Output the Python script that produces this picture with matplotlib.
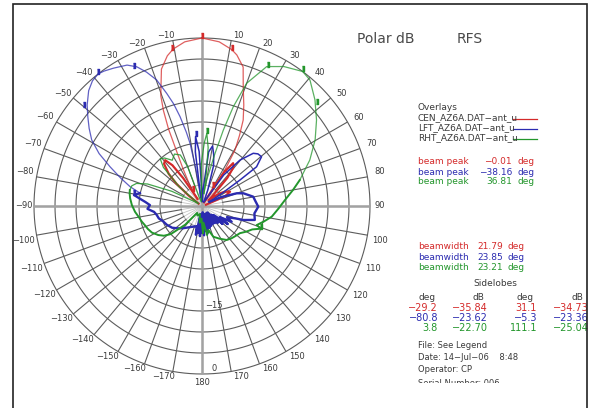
import numpy as np
import matplotlib
matplotlib.use("Agg")
import matplotlib.pyplot as plt
from matplotlib.lines import Line2D
from matplotlib.patches import Rectangle

# Antenna azimuth patterns (angle in deg, level in dB relative to peak)
red_main_ang = [-36, -30, -27, -25, -23.5, -22, -20.5, -19, -16.5, -13, -10.4, -6, 0,
                6, 10.8, 13, 16.5, 19.1, 22.5, 25.6, 28, 30.5, 33, 35]
red_main_db = [-38, -34, -30, -26, -20, -15.5, -12, -10, -6, -3.3, -2, -0.7, 0,
               -0.7, -2.1, -3.1, -5.5, -10, -14, -17.3, -21, -24.5, -30.7, -37]
red_left_ang = [-55, -52, -49, -46, -42, -38.8, -36, -34, -32]
red_left_db = [-39, -36, -32, -29, -26.5, -26, -28, -32, -38]
red_right_ang = [30, 33, 36, 39, 42, 46, 50, 54, 58, 63, 67, 72]
red_right_db = [-39, -30.5, -27.4, -28, -31, -36.5, -38, -35, -33.5, -32.5, -34, -39]

blue_main_ang = [-8, -9.1, -10.8, -12, -13.8, -15.5, -17.4, -19.8, -22.5, -25.1, -28, -32.7,
                 -36, -38.2, -41.2, -44.5, -48.7, -52, -55.5, -59.1, -63, -66.9, -71, -75, -78.2]
blue_main_db = [-38, -32, -24.8, -22, -18.1, -14.8, -11.9, -8.1, -5.5, -3.4, -2, -1,
                -0.3, 0, -0.4, -1.5, -3.6, -5.5, -7.4, -9.4, -12.5, -16.2, -19.5, -22.3, -24.9]
blue_back_ang = [-78.2, -80.8, -84, -86, -89, -93, -97, -101, -106, -111, -118, -126, -133,
                 -140, -148, -156, -165,
                 -168, -170, -172, -174, -176, -178, 180, 178, 176, 174, 172, 170,
                 167, 164, 161, 158, 155, 152, 149, 146, 143, 140, 137, 134, 131, 128, 125, 122,
                 118, 114, 110,
                 108.7, 104.8, 98, 90.7, 84, 79.7, 72.9, 69.9, 65, 61]
blue_back_db = [-24.9, -23.6, -25.5, -26.5, -27.6, -27, -28.5, -29, -29.3, -30, -30.5, -31.2, -32.2,
                -33.1, -34, -34.6, -35,
                -33, -38, -33.5, -37.5, -32.8, -38, -33.6, -37, -33, -38.5, -34, -37,
                -33.5, -38, -34.5, -37, -34.8, -38, -35, -37.5, -34.9, -38, -34.5, -37, -33.5, -36.5, -32.5, -35,
                -32, -33.5, -31.2,
                -29.6, -27, -27.4, -26.6, -27.3, -27.6, -29.7, -31.2, -35, -38]
blue_side_ang = [61, 57.6, 55.6, 54.3, 50.4, 47, 44.2, 39.6, 35, 31, 24, 20, 16, 12.9, 10, 7, 4,
                 1, -1, -3, -5.3, -7, -8]
blue_side_db = [-38, -34.4, -29, -24, -21.6, -21.8, -22.5, -25.8, -31, -38, -39, -36, -30, -27.5,
                -25.5, -27, -36, -39, -36, -27, -23.4, -27, -38]

green_main_ang = [8.5, 10.2, 13.9, 15.7, 17.5, 20, 24.9, 30.4, 36.8, 40.6, 46.8, 53.1, 59.7, 66.9, 75.1]
green_main_db = [-37, -33.7, -27.1, -21.2, -15.2, -8.9, -3.4, -1.5, 0, -0.5, -3.1, -5.9, -8.8, -12.1, -15.9]
green_back_ang = [75.1, 80, 85.9, 92, 98.7, 104, 109.2, 111.1, 115, 120,
                  125.7, 132, 138, 144, 152, 159.8, 165, 170, 175, 178,
                  -178, -172, -165, -155, -145, -138, -132, -128, -123.6, -118,
                  -113, -108, -104.6, -99, -95, -89.2, -84, -80, -77.5]
green_back_db = [-15.9, -18, -20.2, -21.8, -23.2, -24.8, -26.2, -25.0, -26.8, -27.8,
                 -28.9, -29.3, -29.6, -30, -31.2, -32.2, -34.1, -33, -36, -33.5,
                 -37, -36, -38, -37.5, -38, -34, -30, -28.5, -27.5, -26.5,
                 -26, -25.6, -25.2, -24.6, -24, -23.3, -22.8, -22.5, -22.4]
green_side_ang = [-77.5, -74, -71, -68, -64, -60, -56, -50, -45, -41.5, -38, -33, -28, -23,
                  -20, -17, -10, -4, -1, 2, 3.8, 6, 7.5, 8.5]
green_side_db = [-22.4, -22.6, -23.5, -26, -32, -38, -39, -33, -27, -25, -25.5, -27, -26, -26.8,
                 -30, -38, -39, -38, -30, -25, -22.7, -26, -32, -37]

# beam peak, half-power edges and sidelobe markers
red_mark_ang = [0, -10.9, 10.9, -29.2, 31.1]
red_mark_db = [0, -2.2, -2.2, -35.84, -34.73]
blue_mark_ang = [-38.16, -50.1, -26.2, -80.8, -5.3]
blue_mark_db = [0, -3.3, -3.3, -23.62, -23.36]
green_mark_ang = [36.81, 25.2, 48.4, 3.8, 111.1]
green_mark_db = [0, -3.3, -3.3, -22.70, -25.04]

files = ["CEN_AZ6A.DAT\u2212ant_u", "LFT_AZ6A.DAT\u2212ant_u", "RHT_AZ6A.DAT\u2212ant_u"]
peaks = ["\u22120.01", "\u221238.16", "36.81"]
widths = ["21.79", "23.85", "23.21"]
side_rows = [["\u221229.2", "\u221235.84", "31.1", "\u221234.73"],
             ["\u221280.8", "\u221223.62", "\u22125.3", "\u221223.36"],
             ["3.8", "\u221222.70", "111.1", "\u221225.04"]]

RED, BLUE, GREEN = "#d42a2a", "#2b2bb0", "#23962c"
colors = [RED, BLUE, GREEN]
GRID = "#5c5c5c"
TXT = "#3a3a3a"

W, H = 592, 408
fig = plt.figure(figsize=(W / 100, H / 100), dpi=100)
cx, cy, R = 202, 206, 168
ax = fig.add_axes([(cx - R) / W, (H - cy - R) / H, 2 * R / W, 2 * R / H], projection="polar")
ax.set_theta_zero_location("N")
ax.set_theta_direction(-1)
ax.set_rlim(-40, 0)
ax.set_axis_off()

# grid: rings every 5 dB, spokes every 10 deg
full = np.linspace(0, 2 * np.pi, 721)
for lev in range(-35, 1, 5):
    col = "#b4b4b4" if lev == -35 else GRID
    ax.plot(full, np.full_like(full, lev), color=col, lw=0.8, zorder=1, clip_on=False)
for d in range(0, 360, 10):
    t = np.deg2rad(d)
    ax.plot([t, t], [-40, -35], color="#c4c4c4", lw=0.6, zorder=1)
    ax.plot([t, t], [-35, 0], color=GRID, lw=0.8, zorder=1)
for d in (0, 90, 180, 270):
    t = np.deg2rad(d)
    ax.plot([t, t], [-40, 0], color="#a2a2a2", lw=1.8, zorder=1.5)


def th(ang):
    return np.unwrap(np.deg2rad(ang))


# patterns
ax.plot(th(red_main_ang), red_main_db, color=RED, lw=0.9, alpha=0.75, zorder=3, clip_on=False)
ax.plot(th(red_left_ang), red_left_db, color=RED, lw=1.6, zorder=3)
ax.plot(th(red_right_ang), red_right_db, color=RED, lw=1.6, zorder=3)
ax.plot(th(blue_main_ang), blue_main_db, color=BLUE, lw=0.9, alpha=0.75, zorder=3, clip_on=False)
ax.plot(th(blue_back_ang), blue_back_db, color=BLUE, lw=1.7, zorder=3)
ax.plot(th(blue_side_ang), blue_side_db, color=BLUE, lw=1.1, zorder=3)
ax.plot(th(green_main_ang), green_main_db, color=GREEN, lw=0.9, alpha=0.75, zorder=3, clip_on=False)
ax.plot(th(green_back_ang), green_back_db, color=GREEN, lw=1.4, zorder=3)
ax.plot(th(green_side_ang), green_side_db, color=GREEN, lw=0.9, alpha=0.85, zorder=3)

pin = [(-0.22, 0), (0.22, 0), (0.22, 1), (-0.22, 1)]
for a, r, c in [(red_mark_ang, red_mark_db, RED), (blue_mark_ang, blue_mark_db, BLUE),
                (green_mark_ang, green_mark_db, GREEN)]:
    ax.plot(np.deg2rad(a), r, ls="none", marker=pin, ms=7.5, color=c, zorder=5, clip_on=False)

# angle labels round the outer ring
for d in range(-170, 181, 10):
    if d == 0:
        continue
    t = np.deg2rad(d)
    s = abs(np.sin(t))
    sign = -1 if d < 0 else 1
    if d == 180:
        off = (0, -4)
        va = "top"
    elif abs(d) == 90:
        off = (sign * 10, 0)
        va = "center"
    elif abs(d) < 90:
        off = (sign * (6 + 6 * s), 5)
        va = "center"
    else:
        off = (sign * (9 + 4 * s), -5)
        va = "center"
    lab = str(d).replace("-", "\u2212")
    ax.annotate(lab, (t, 0), xytext=off, textcoords="offset pixels", ha="center", va=va,
                fontsize=6, color=TXT, annotation_clip=False)

ax.annotate("\u221215", (np.pi, -15), xytext=(3, 1), textcoords="offset pixels",
            ha="left", va="bottom", fontsize=6, color=TXT, annotation_clip=False)
ax.annotate("0", (np.pi, 0), xytext=(10, 1), textcoords="offset pixels",
            ha="left", va="bottom", fontsize=6, color=TXT, annotation_clip=False)


def ftext(x, y, s, **kw):
    kw.setdefault("color", TXT)
    kw.setdefault("fontsize", 6.5)
    kw.setdefault("va", "center")
    fig.text(x / W, 1 - y / H, s, **kw)


ftext(357, 39, "Polar dB", fontsize=10, color="#4a4a4a")
ftext(457, 39, "RFS", fontsize=10, color="#4a4a4a")

ftext(418, 108, "Overlays")
for i, (f, c) in enumerate(zip(files, colors)):
    y = 118 + 10 * i
    ftext(418, y, f)
    fig.add_artist(Line2D([513 / W, 537 / W], [1 - (y + 1) / H] * 2, color=c, lw=0.9))

for i, (p, c) in enumerate(zip(peaks, colors)):
    y = 162 + 10 * i
    ftext(418, y, "beam peak", color=c)
    ftext(512, y, p, color=c, ha="right")
    ftext(517, y, "deg", color=c)

for i, (bw, c) in enumerate(zip(widths, colors)):
    y = 247 + 10 * i
    ftext(418, y, "beamwidth", color=c)
    ftext(477, y, bw, color=c)
    ftext(507, y, "deg", color=c)

ftext(495, 284, "Sidelobes", ha="center")
col_x = [438, 488, 537, 589]
for x, h in zip([427, 478, 525, 577], ["deg", "dB", "deg", "dB"]):
    ftext(x, 298, h, ha="center")
for i, (row, c) in enumerate(zip(side_rows, colors)):
    for x, v in zip(col_x, row):
        ftext(x, 308 + 10 * i, v, color=c, ha="right", fontsize=7)

ftext(418, 345, "File: See Legend", fontsize=6)
ftext(418, 357, "Date: 14\u2212Jul\u221206    8:48", fontsize=6)
ftext(418, 370, "Operator: CP", fontsize=6)
ftext(418, 383, "Serial Number: 006", fontsize=6)
fig.add_artist(Rectangle((410 / W, 1 - 398 / H), 120 / W, 15 / H, transform=fig.transFigure,
                         facecolor="white", edgecolor="none", zorder=10))

# page frame
fig.add_artist(Rectangle((12.5 / W, -0.1), (587 - 12.5) / W, 1.1 - 4.5 / H, transform=fig.transFigure,
                         fill=False, edgecolor="#222222", lw=1.2, zorder=11))

fig.savefig("out.png", dpi=100, facecolor="white")
